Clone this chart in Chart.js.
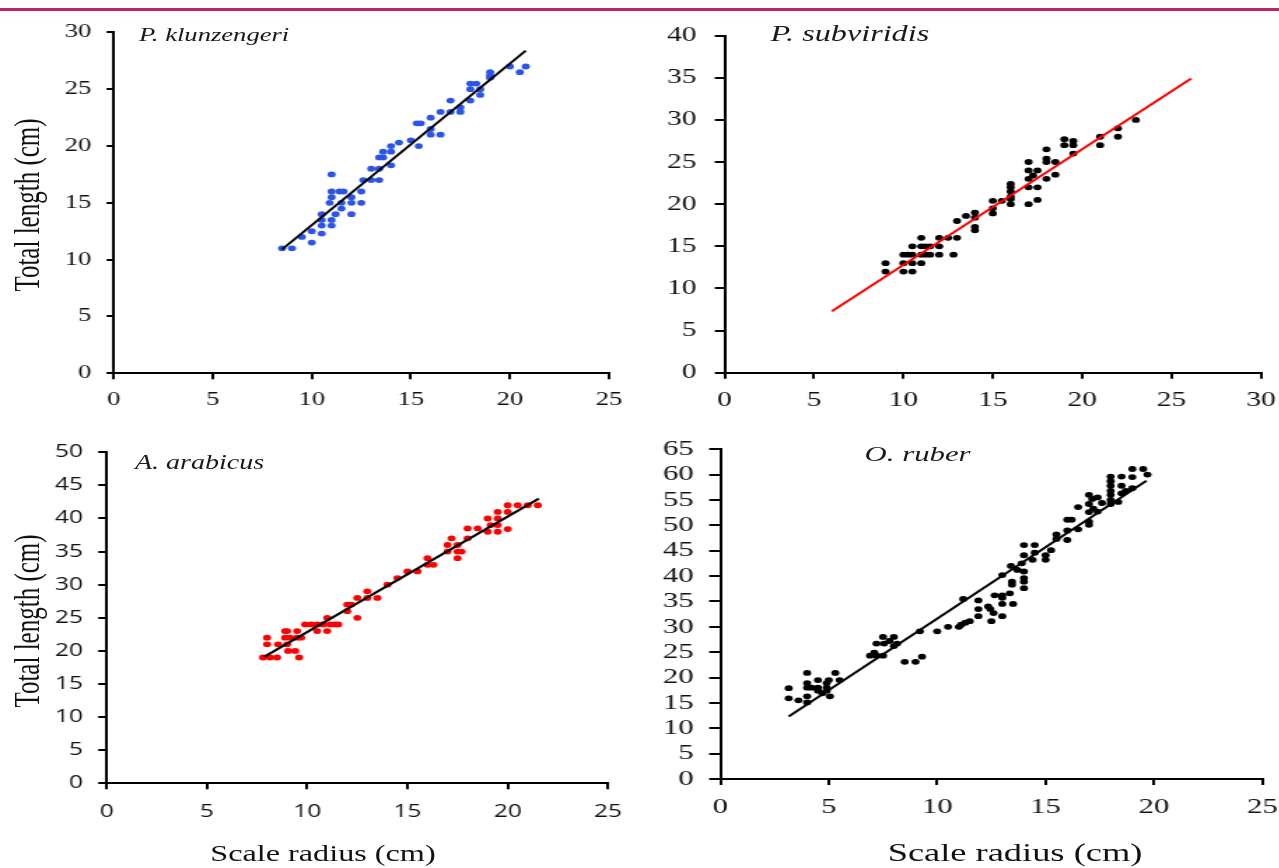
<!DOCTYPE html>
<html lang="en">
<head>
<meta charset="utf-8">
<title>Scale radius x Total length</title>
<script src="https://cdn.jsdelivr.net/npm/chart.js@4.4.1/dist/chart.umd.min.js"></script>
<style>
  html, body { margin: 0; padding: 0; background: #fff; }
  body { width: 1279px; height: 868px; position: relative; overflow: hidden; }
  /* faixa colorida no topo da página */
  #faixa { position: absolute; left: 0; top: 8px; width: 1279px; height: 3px; background: #c0226c; }
  /* a figura toda é esticada na horizontal */
  #pagina { position: absolute; left: 0; top: 0; width: 914px; height: 868px;
            transform: scaleX(1.4); transform-origin: 0 0;
            font-family: "Liberation Serif", "Times New Roman", serif; color: #111; }
  #pagina canvas { position: absolute; }
  .especie { position: absolute; font-style: italic; white-space: nowrap; line-height: 1; color: #1a1a1a; }
  .eixo { position: absolute; white-space: nowrap; line-height: 1; color: #111; transform: translate(-50%, -50%); }
  .eixo.vertical { transform: translate(-50%, -50%) rotate(-90deg); }
</style>
</head>
<body>
<div id="faixa"></div>
<div id="pagina">
  <canvas id="grafKlun"></canvas>
  <canvas id="grafSub"></canvas>
  <canvas id="grafArab"></canvas>
  <canvas id="grafRub"></canvas>

  <div class="especie" style="left:99.3px; top:25px; font-size:19px;">P. klunzengeri</div>
  <div class="especie" style="left:550.4px; top:22px; font-size:23px;">P. subviridis</div>
  <div class="especie" style="left:96.4px; top:452px; font-size:20px;">A. arabicus</div>
  <div class="especie" style="left:617.5px; top:443px; font-size:22px;">O. ruber</div>

  <div class="eixo vertical" style="left:18.9px; top:205px; font-size:25px;">Total length (cm)</div>
  <div class="eixo vertical" style="left:18.9px; top:621px; font-size:25px;">Total length (cm)</div>
  <div class="eixo" style="left:230.7px; top:853px; font-size:23px;">Scale radius (cm)</div>
  <div class="eixo" style="left:725px; top:853px; font-size:26px;">Scale radius (cm)</div>
</div>

<script>
// fator do esticamento horizontal (o mesmo do css)
const ESTICA = 1.4;

// P. klunzengeri - raio da escama (x) e comprimento total (y)
const klunRaio = [8.5, 9, 9.5, 10, 10, 10.5, 10.5, 10.5, 10.5, 11, 11, 10.9, 11, 11, 11, 11.2, 11.4, 11.6, 11.5, 11.5,
    12, 12, 12, 12.5, 12.5, 12.6, 13, 13, 13.4, 13.4, 13.4, 13.6, 13.6, 14, 14, 14, 14.4, 15, 15.3, 15.5, 15.4,
    16, 16, 16, 16.5, 16.5, 17, 17, 17.5, 17.5, 18, 18, 18, 18.3, 18.5, 18.5, 19, 19, 19, 20, 20.5, 20.8];
const klunComp = [11, 11, 12, 12.5, 11.5, 12.3, 13, 13.5, 14, 13, 13.5, 15, 15.5, 16, 17.5, 14, 16, 16, 15, 14.5,
    14, 15, 15.5, 15, 16, 17, 17, 18, 17, 18, 19, 19, 19.5, 19.5, 20, 18.3, 20.3, 20.5, 22, 22, 20,
    22.5, 21, 21.5, 23, 21, 24, 23, 23, 23.4, 24, 25, 25.5, 25.5, 25, 24.5, 26.5, 26.2, 26, 27, 26.5, 27];
const klunRetaX = [8.5, 20.8];
const klunRetaY = [10.9, 28.4];
const klunTicksX = [0, 5, 10, 15, 20, 25];
const klunTicksY = [0, 5, 10, 15, 20, 25, 30];

// P. subviridis
const subRaio = [9, 9, 10, 10, 10, 10.25, 10.5, 10.5, 10.5, 10.5, 11, 11, 11, 11, 11.25, 11.25, 11.5, 11.5,
    12, 12, 12, 12.5, 12.8, 13, 13, 13.5, 14, 14, 14, 14, 15, 15, 15, 15.5, 16, 16, 16, 16, 16, 16,
    17, 17, 17, 17, 17, 17.25, 17.5, 17.5, 17.5, 18, 18, 18, 18, 18.5, 18.5, 19, 19, 19.5, 19.5, 19.5,
    21, 21, 22, 22, 23];
const subComp = [13, 12, 14, 13, 12, 14, 12, 13, 14, 15, 13, 14, 15, 16, 14, 15, 14, 15,
    14, 15, 16, 16, 14, 16, 18, 18.6, 19, 18.4, 17.3, 16.9, 20.4, 19.5, 18.9, 20.4, 22.4, 22, 21.5, 20.9, 20.6, 20,
    25, 24, 23, 22, 20, 23.4, 24, 22, 20.5, 26.5, 25.4, 25, 23, 25, 23.5, 27.7, 27, 27.5, 27, 26,
    28, 27, 29, 28, 30];
const subRetaX = [6, 26.1];
const subRetaY = [7.3, 34.9];
const subTicksX = [0, 5, 10, 15, 20, 25, 30];
const subTicksY = [0, 5, 10, 15, 20, 25, 30, 35, 40];

// A. arabicus
const arabRaio = [7.8, 8, 8, 8.15, 8.5, 8.55, 8.9, 8.9, 9, 9, 9.05, 9.15, 9.4, 9.5, 9.5, 9.6, 9.7, 9.9, 10.2,
    10.5, 10.5, 10.8, 11, 11, 11.15, 11.4, 11.55, 12, 12, 12.2, 12.5, 12.5, 13, 13, 13.5, 14, 14.5, 15, 15.5,
    16, 16, 16.3, 17, 17, 17.2, 17.5, 17.5, 17.5, 17.7, 18, 18, 18.5, 19, 19, 19.15, 19.5, 19.5, 19.5, 19.5,
    20, 20, 20, 20.5, 21, 21.5];
const arabComp = [19, 22, 21, 19, 19, 21, 23, 22, 23, 21, 20, 22, 20, 23, 22, 19, 22, 24, 24,
    23, 24, 24, 25, 23, 24, 24, 24, 26, 27, 27, 28, 25, 29, 28, 28, 30, 31, 32, 32,
    34, 33, 33, 36, 35, 37, 36, 34, 35, 35, 38.5, 37, 38.5, 40, 38, 39, 40, 39, 38, 41,
    42, 41, 38.4, 42, 42, 42];
const arabRetaX = [7.85, 21.55];
const arabRetaY = [19.1, 43];
const arabTicksX = [0, 5, 10, 15, 20, 25];
const arabTicksY = [0, 5, 10, 15, 20, 25, 30, 35, 40, 45, 50];

// O. ruber
const rubRaio = [3.15, 3.15, 3.6, 4, 4, 4, 4, 4, 4.2, 4.5, 4.5, 4.5, 4.7, 4.9, 4.9, 4.9, 5, 5.05, 5.3, 5.5,
    6.9, 7.1, 7.2, 7.2, 7.5, 7.5, 7.55, 7.8, 8, 8, 8.15,
    8.5, 9, 9.3, 9.2, 10, 10.5, 11, 11.1, 11.3, 11.2, 11.5,
    11.9, 11.9, 11.9, 12.35, 12.45, 12.5, 12.6, 12.65, 13, 13, 13, 13, 13, 13.35, 13.4, 13.45, 13.45, 13.5,
    13.7, 13.9, 14, 14, 14, 14, 14, 14,
    14.4, 14.5, 14.5, 15, 15, 15.25, 15.5, 15.5, 16, 16, 16, 16.2, 16.5, 16.5, 17, 17, 17, 17, 17,
    17.15, 17.2, 17.4, 17.4, 17.6, 18, 18, 18, 18, 18, 18, 18, 18.35, 18.5, 18.5, 18.5, 18.7,
    19, 19, 19, 19.5, 19.7];
const rubComp = [17.9, 15.9, 15.5, 20.9, 18.9, 18, 16.3, 15.1, 18, 19.5, 18, 17.4, 16.9, 18, 17.4, 18.9, 19.5, 16.3, 20.9, 19.5,
    24.3, 24.9, 24.3, 26.7, 24.3, 28, 26.7, 27.2, 28, 26.2, 26.7,
    23.1, 23.1, 24.1, 29.1, 29.1, 30, 30, 30.4, 30.8, 35.5, 31.1,
    35.2, 33.5, 32.1, 34, 33.5, 31.1, 32.7, 36.2, 36.2, 40.2, 32.1, 34.5, 35.7, 36.6, 42, 38.9, 38.3, 34.5,
    41.2, 42.5, 40.9, 39.6, 38.9, 37.6, 44.1, 46.1,
    43.2, 46.1, 44.6, 44.1, 43.2, 45.1, 48.2, 47.3, 49, 51.1, 47.1, 51.1, 49.2, 53.6, 50.7, 50.1, 52.6, 54.2, 56,
    55.2, 53.3, 55.5, 52.7, 54.4, 54.2, 55, 56, 56.8, 57.8, 58.7, 59.6, 54.6, 56.3, 57.8, 59.6, 56.8,
    57.3, 59.5, 61.1, 61.1, 60];
const rubRetaX = [3.15, 19.65];
const rubRetaY = [12.3, 58.8];
const rubTicksX = [0, 5, 10, 15, 20, 25];
const rubTicksY = [0, 5, 10, 15, 20, 25, 30, 35, 40, 45, 50, 55, 60, 65];

// junta os dois arrays em pontos {x, y}
const pontos = (xs, ys) => xs.map((x, i) => ({ x: x, y: ys[i] }));

// monta um eixo linear com os ticks exatamente da lista
const eixoLinear = (ticks, fonte, tamanho, marca, espaco, ajuste) => ({
    type: 'linear',
    min: ticks[0],
    max: ticks[ticks.length - 1],
    afterBuildTicks: (s) => { s.ticks = ticks.map((v) => ({ value: v })); },
    afterFit: ajuste,
    ticks: { font: { family: fonte, size: tamanho }, color: '#111', padding: espaco, maxRotation: 0, autoSkip: false },
    grid: { drawOnChartArea: false, color: '#000', lineWidth: 2, tickLength: marca },
    border: { color: '#000', width: 2 },
});

// cria um gráfico de dispersão com a reta de regressão por cima
// caixa = onde fica o canvas, area = onde fica a área dos eixos (em px da página)
const criarGrafico = (id, g) => {
    const cv = document.getElementById(id);
    const larg = Math.round((g.caixa.dir - g.caixa.esq) / ESTICA);
    const alt = g.caixa.base - g.caixa.topo;
    cv.width = larg;
    cv.height = alt;
    cv.style.left = (g.caixa.esq / ESTICA) + 'px';
    cv.style.top = g.caixa.topo + 'px';
    cv.style.width = larg + 'px';
    cv.style.height = alt + 'px';

    const larguraY = (g.area.esq - g.caixa.esq) / ESTICA;
    const alturaX = g.caixa.base - g.area.base;

    new Chart(cv, {
        type: 'scatter',
        data: {
            datasets: [
                {
                    data: pontos(g.retaX, g.retaY),
                    showLine: true,
                    borderColor: g.corReta,
                    borderWidth: 2,
                    pointRadius: 0,
                    order: 0,
                },
                {
                    data: pontos(g.raio, g.comp),
                    backgroundColor: g.corPonto,
                    borderWidth: 0,
                    pointRadius: 2.9,
                    order: 1,
                },
            ],
        },
        options: {
            responsive: false,
            animation: false,
            events: [],
            layout: {
                padding: {
                    top: g.area.topo - g.caixa.topo,
                    right: (g.caixa.dir - g.area.dir) / ESTICA,
                    left: 0,
                    bottom: 0,
                },
            },
            plugins: { legend: { display: false }, tooltip: { enabled: false } },
            scales: {
                x: eixoLinear(g.ticksX, g.fonte, g.tamanho, 6, g.espacoX, (s) => { s.height = alturaX; }),
                y: eixoLinear(g.ticksY, g.fonte, g.tamanho, g.marcaY, g.espacoY, (s) => { s.width = larguraY; }),
            },
        },
    });
};

const serifa = '"Liberation Serif", "Times New Roman", serif';
const semSerifa = '"Open Sans", "Noto Sans", sans-serif';

criarGrafico('grafKlun', {
    raio: klunRaio, comp: klunComp, retaX: klunRetaX, retaY: klunRetaY,
    ticksX: klunTicksX, ticksY: klunTicksY,
    corPonto: '#2b55e6', corReta: '#000',
    fonte: serifa, tamanho: 19, marcaY: 5, espacoY: 11, espacoX: 9,
    caixa: { esq: 40, dir: 650, topo: 10, base: 420 },
    area: { esq: 113, dir: 608, topo: 26.7, base: 373.3 },
});

criarGrafico('grafSub', {
    raio: subRaio, comp: subComp, retaX: subRetaX, retaY: subRetaY,
    ticksX: subTicksX, ticksY: subTicksY,
    corPonto: '#000', corReta: '#ff0000',
    fonte: serifa, tamanho: 21, marcaY: 7, espacoY: 13, espacoX: 9,
    caixa: { esq: 650, dir: 1310, topo: 10, base: 420 },
    area: { esq: 725, dir: 1262, topo: 26.7, base: 372.7 },
});

criarGrafico('grafArab', {
    raio: arabRaio, comp: arabComp, retaX: arabRetaX, retaY: arabRetaY,
    ticksX: arabTicksX, ticksY: arabTicksY,
    corPonto: '#ff0000', corReta: '#000',
    fonte: semSerifa, tamanho: 17.5, marcaY: 6, espacoY: 11, espacoX: 12,
    caixa: { esq: 40, dir: 650, topo: 430, base: 830 },
    area: { esq: 106, dir: 607, topo: 452.3, base: 783.3 },
});

criarGrafico('grafRub', {
    raio: rubRaio, comp: rubComp, retaX: rubRetaX, retaY: rubRetaY,
    ticksX: rubTicksX, ticksY: rubTicksY,
    corPonto: '#000', corReta: '#000',
    fonte: serifa, tamanho: 22, marcaY: 8, espacoY: 11, espacoX: 9,
    caixa: { esq: 645, dir: 1310, topo: 425, base: 830 },
    area: { esq: 720, dir: 1262, topo: 446.7, base: 779 },
});
</script>
</body>
</html>
